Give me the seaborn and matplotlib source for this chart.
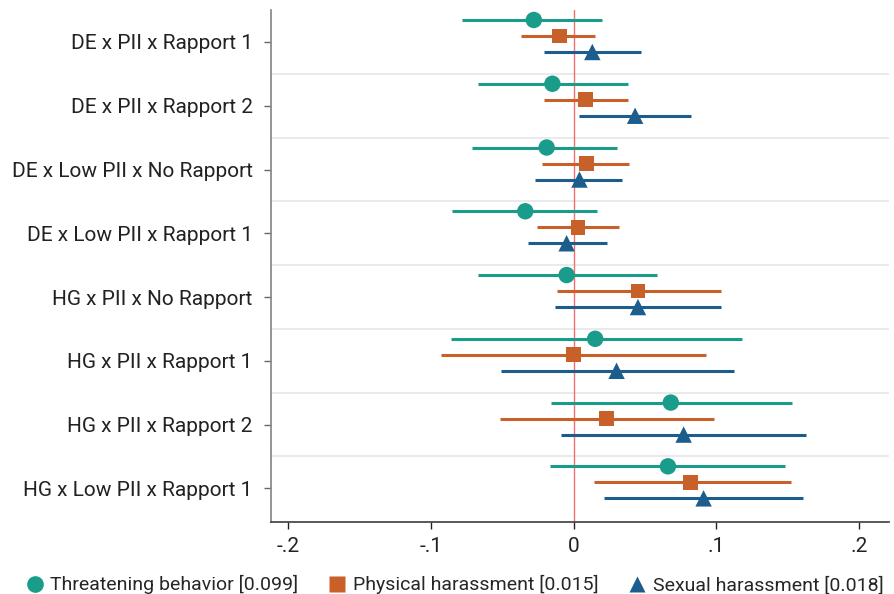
import numpy as np
import pandas as pd
import matplotlib
matplotlib.use("Agg")
import matplotlib.pyplot as plt
import seaborn as sns
from matplotlib.lines import Line2D

# ----- data -----
terms = ["DE x PII x Rapport 1", "DE x PII x Rapport 2", "DE x Low PII x No Rapport",
         "DE x Low PII x Rapport 1", "HG x PII x No Rapport", "HG x PII x Rapport 1",
         "HG x PII x Rapport 2", "HG x Low PII x Rapport 1"]
series = ["Threatening behavior [0.099]", "Physical harassment [0.015]", "Sexual harassment [0.018]"]

threat_b = [-0.028, -0.015, -0.019, -0.034, -0.005, 0.015, 0.068, 0.066]
threat_lo = [-0.078, -0.067, -0.071, -0.085, -0.067, -0.086, -0.016, -0.017]
threat_hi = [0.020, 0.038, 0.030, 0.016, 0.058, 0.118, 0.153, 0.148]

phys_b = [-0.010, 0.008, 0.009, 0.003, 0.045, 0.000, 0.023, 0.082]
phys_lo = [-0.037, -0.021, -0.022, -0.026, -0.012, -0.093, -0.052, 0.014]
phys_hi = [0.015, 0.038, 0.039, 0.032, 0.103, 0.093, 0.098, 0.152]

sex_b = [0.013, 0.043, 0.004, -0.005, 0.045, 0.030, 0.077, 0.091]
sex_lo = [-0.021, 0.004, -0.027, -0.032, -0.013, -0.051, -0.009, 0.021]
sex_hi = [0.047, 0.082, 0.034, 0.023, 0.103, 0.112, 0.163, 0.161]

colors = ["#1a9c8a", "#c8602a", "#1d5d8e"]
markers = ["o", "s", "^"]
sizes = [140, 115, 140]
offsets = [-0.345, -0.094, 0.157]

rows = []
for s, (b, lo, hi) in enumerate([(threat_b, threat_lo, threat_hi),
                                 (phys_b, phys_lo, phys_hi),
                                 (sex_b, sex_lo, sex_hi)]):
    for i, t in enumerate(terms):
        rows.append(dict(term=t, series=series[s], b=b[i], lo=lo[i], hi=hi[i],
                         y=i + offsets[s]))
df = pd.DataFrame(rows)

sns.set_theme(style="white")
plt.rcParams["font.family"] = ["Roboto", "DejaVu Sans"]

fig = plt.figure(figsize=(8.94, 5.94), dpi=100)
ax = fig.add_axes([0.303, 0.121, 0.691, 0.862])

# separators between groups
for k in range(len(terms) - 1):
    ax.axhline(k + 0.5, color="#e6e6e6", lw=1.2, zorder=0)
ax.axvline(0, color="#f07070", lw=1.0, zorder=1)

for s, name in enumerate(series):
    sub = df[df.series == name]
    ax.hlines(sub.y, sub.lo, sub.hi, color=colors[s], lw=2.2, zorder=2)
    sns.scatterplot(data=sub, x="b", y="y", marker=markers[s], s=sizes[s],
                    color=colors[s], edgecolor="none", ax=ax, zorder=3, legend=False)

ax.set_xlim(-0.2123, 0.2207)
ax.set_ylim(len(terms) - 0.47, -0.5)
ax.set_yticks(range(len(terms)))
ax.set_yticklabels(terms)
ax.set_xticks([-0.2, -0.1, 0, 0.1, 0.2])
ax.set_xticklabels(["-.2", "-.1", "0", ".1", ".2"])
ax.set_xlabel("")
ax.set_ylabel("")
ax.tick_params(axis="both", labelsize=15, colors="#222222", length=5, width=1,
               left=True, bottom=True, pad=6)
ax.tick_params(axis="y", color="#666666", pad=8)
for sp in ["top", "right"]:
    ax.spines[sp].set_visible(False)
ax.spines["left"].set_color("#888888")
ax.spines["bottom"].set_color("#444444")

handles = [Line2D([0], [0], marker=markers[s], color="none", markerfacecolor=colors[s],
                  markeredgecolor="none", markersize=12) for s in range(3)]
fig.legend(handles, series, loc="lower center", ncol=3, frameon=False,
           bbox_to_anchor=(0.507, -0.03), fontsize=14, handletextpad=0.2,
           columnspacing=1.4, handlelength=1.2)

fig.savefig("out.png", dpi=100)
